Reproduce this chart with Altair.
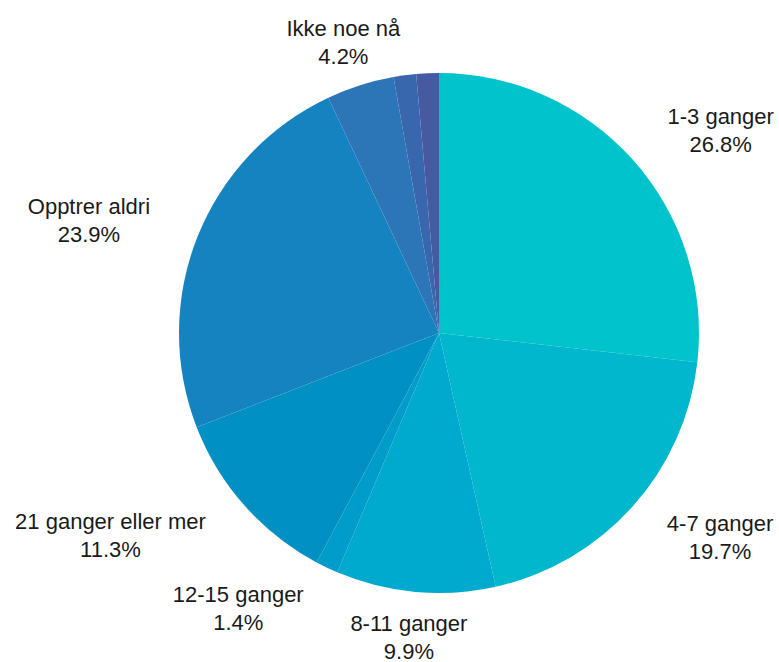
import math
import altair as alt
import pandas as pd

# ---- data ----
categories = ["1-3 ganger", "4-7 ganger", "8-11 ganger", "12-15 ganger",
              "21 ganger eller mer", "Opptrer aldri", "Ikke noe nå",
              "16-20 ganger", "Annet"]
values = [26.8, 19.7, 9.9, 1.4, 11.3, 23.9, 4.2, 1.4, 1.4]
labelled = [True, True, True, True, True, True, True, False, False]
colors = ["#00C3CC", "#00B7CD", "#00A9CE", "#009DCB", "#0090C3",
          "#1583C0", "#2C75B6", "#3867AD", "#4759A1"]

# ---- layout constants ----
W, H = 779, 662
CX, CY = 439, 333
R = 260
LCX, LCY = 437, 333
LABEL_RX, LABEL_RY = 309, 305
FONT_SIZE = 22
LINE_H = 28

# Arial / Liberation Sans advance widths (per 1000 em)
CW = {c: 556 for c in "0123456789adegnopå"}
CW.update({"-": 333, " ": 278, "%": 889, ".": 278, "i": 222, "k": 500,
           "l": 222, "m": 833, "r": 333, "t": 278, "I": 278, "O": 778})


def text_w(s):
    return sum(CW.get(c, 556) for c in s) * FONT_SIZE / 1000.0


total = sum(values)
rows = []
cum = 0.0
for i, (c, v) in enumerate(zip(categories, values)):
    mid = (cum + v / 2) / total * 2 * math.pi
    cum += v
    pct = f"{v:.1f}%"
    ax = LCX + LABEL_RX * math.sin(mid)
    ay = LCY - LABEL_RY * math.cos(mid) + 1
    w = max(text_w(c), text_w(pct))
    s = math.sin(mid)
    if abs(s) < 0.35:
        bx = ax
    elif s > 0:
        bx = ax + w / 2
    else:
        bx = ax - w / 2
    rows.append({"idx": i, "cat": c, "val": v, "pct": pct,
                 "show": labelled[i],
                 "lx": bx, "ly1": ay - LINE_H / 2, "ly2": ay + LINE_H / 2})

df = pd.DataFrame(rows)

base = alt.Chart(df)

pie = base.mark_arc(radius=R, strokeWidth=0).encode(
    theta=alt.Theta("val:Q", stack=True),
    order=alt.Order("idx:Q"),
    color=alt.Color("cat:N", scale=alt.Scale(domain=categories, range=colors),
                    legend=None),
    x=alt.value(CX),
    y=alt.value(CY),
)

xs = alt.Scale(domain=[0, W], range=[0, W])
ys = alt.Scale(domain=[0, H], range=[0, H])

txt = dict(font="Liberation Sans", fontSize=FONT_SIZE, color="#1a1a1a",
           align="center", baseline="middle")

names = base.transform_filter("datum.show").mark_text(**txt).encode(
    x=alt.X("lx:Q", scale=xs, axis=None),
    y=alt.Y("ly1:Q", scale=ys, axis=None),
    text="cat:N",
)
pcts = base.transform_filter("datum.show").mark_text(**txt).encode(
    x=alt.X("lx:Q", scale=xs, axis=None),
    y=alt.Y("ly2:Q", scale=ys, axis=None),
    text="pct:N",
)

chart = alt.layer(pie, names, pcts).properties(
    width=W, height=H, padding=0,
    autosize=alt.AutoSizeParams(type="none"),
    background="white",
).configure_view(stroke=None)

chart.save("out.html", embed_options={"renderer": "svg", "actions": False})
